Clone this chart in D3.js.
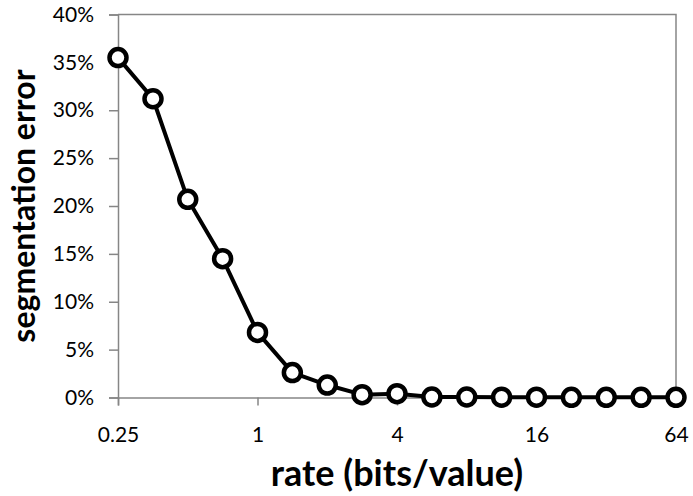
<!DOCTYPE html>
<html>
<head>
<meta charset="utf-8">
<script src="https://cdn.jsdelivr.net/npm/d3@7"></script>
<style>
  body { margin: 0; background: #fff; }
  text { font-family: Lato, "Open Sans", sans-serif; }
</style>
</head>
<body>
<div id="chart"></div>
<script>
// Data
const rates = [0.25, 0.354, 0.5, 0.707, 1, 1.414, 2, 2.828, 4, 5.657, 8, 11.31, 16, 22.63, 32, 45.25, 64];
const errors = [35.5, 31.2, 20.7, 14.5, 6.8, 2.6, 1.3, 0.3, 0.4, 0.05, 0.05, 0.03, 0.03, 0.02, 0.02, 0.02, 0.02];
const xTicks = [0.25, 1, 4, 16, 64];
const xTickLabels = ["0.25", "1", "4", "16", "64"];
const yTicks = [0, 5, 10, 15, 20, 25, 30, 35, 40];

const width = 693;
const height = 496;
const margin = {top: 14.5, right: 17, bottom: 98.5, left: 118};
const axisColor = "#868686";
const tickFont = 21;

const svg = d3.select("#chart")
    .append("svg")
    .attr("width", width)
    .attr("height", height);

const x = d3.scaleLog()
    .base(2)
    .domain([0.25, 64])
    .range([margin.left, width - margin.right]);

const y = d3.scaleLinear()
    .domain([0, 40])
    .range([height - margin.bottom, margin.top]);

// frame (top and right)
svg.append("path")
    .attr("d", `M${x(0.25)},${y(40)}H${x(64)}V${y(0)}`)
    .attr("fill", "none")
    .attr("stroke", axisColor)
    .attr("stroke-width", 1.5);

// y axis
const yAxis = svg.append("g")
    .attr("transform", `translate(${x(0.25)},0)`)
    .call(d3.axisLeft(y).tickValues(yTicks).tickSize(9).tickPadding(15).tickFormat(d => d + "%"));
yAxis.select(".domain").attr("stroke", axisColor).attr("stroke-width", 1.5);
yAxis.selectAll(".tick line").attr("stroke", axisColor).attr("stroke-width", 1.5);
yAxis.selectAll(".tick text")
    .attr("font-size", tickFont)
    .attr("fill", "#000")
    .style("font-family", "Lato, sans-serif");

// x axis
const xAxis = svg.append("g")
    .attr("transform", `translate(0,${y(0)})`)
    .call(d3.axisBottom(x).tickValues(xTicks).tickSize(8).tickPadding(22)
        .tickFormat((d, i) => xTickLabels[i]));
xAxis.select(".domain").attr("stroke", axisColor).attr("stroke-width", 1.5);
xAxis.selectAll(".tick line").attr("stroke", axisColor).attr("stroke-width", 1.5);
xAxis.selectAll(".tick text")
    .attr("font-size", tickFont)
    .attr("fill", "#000")
    .style("font-family", "Lato, sans-serif");

// axis titles
svg.append("text")
    .attr("x", (x(0.25) + x(64)) / 2)
    .attr("y", 486)
    .attr("text-anchor", "middle")
    .attr("font-size", 36)
    .attr("font-weight", "bold")
    .text("rate (bits/value)");

svg.append("text")
    .attr("transform", `translate(35,${(y(0) + y(40)) / 2}) rotate(-90)`)
    .attr("text-anchor", "middle")
    .attr("font-size", 32)
    .attr("font-weight", "bold")
    .text("segmentation error");

// series
const points = rates.map((r, i) => ({r: r, e: errors[i]}));

svg.append("path")
    .datum(points)
    .attr("fill", "none")
    .attr("stroke", "#000")
    .attr("stroke-width", 4)
    .attr("stroke-linejoin", "round")
    .attr("d", d3.line().x(d => x(d.r)).y(d => y(d.e)));

svg.selectAll("circle.pt")
    .data(points)
    .enter()
    .append("circle")
    .attr("class", "pt")
    .attr("cx", d => x(d.r))
    .attr("cy", d => y(d.e))
    .attr("r", 8.5)
    .attr("fill", "#fff")
    .attr("stroke", "#000")
    .attr("stroke-width", 4.5);
</script>
</body>
</html>
